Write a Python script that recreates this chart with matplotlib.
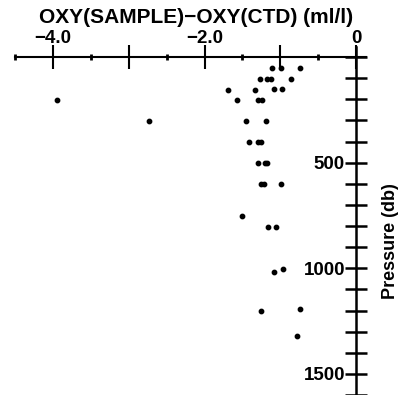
import numpy as np
import matplotlib
matplotlib.use("Agg")
import matplotlib.pyplot as plt
from matplotlib.ticker import FixedLocator, FuncFormatter

# oxygen difference (ml/l) vs pressure (db)
oxy_diff = [-1.11, -0.99, -0.74,
            -1.27, -1.17, -1.12, -0.86,
            -1.69, -1.33, -1.08, -0.98,
            -3.95, -1.57, -1.29, -1.24,
            -2.73, -1.45, -1.19,
            -1.41, -1.29, -1.25,
            -1.30, -1.20, -1.17,
            -1.26, -1.22, -0.99,
            -1.50,
            -1.16, -1.06,
            -1.09, -0.97,
            -1.26, -0.74,
            -0.78]
pressure = [53, 53, 53,
            103, 103, 103, 102,
            155, 155, 153, 153,
            203, 203, 203, 203,
            302, 302, 302,
            403, 403, 403,
            503, 503, 503,
            602, 602, 602,
            755,
            803, 803,
            1016, 1004,
            1202, 1192,
            1323]

x_major = [-4, -3, -2, -1, 0]
x_minor = [-4.5, -3.5, -2.5, -1.5, -0.5]
x_labeled = {-4: "\u22124.0", -2: "\u22122.0", 0: "0"}
y_ticks = list(range(0, 1700, 100))
y_labeled = [500, 1000, 1500]

plt.rcParams['font.family'] = ['Liberation Sans', 'DejaVu Sans']
plt.rcParams['font.weight'] = 'bold'

fig = plt.figure(figsize=(4.01, 3.95), dpi=100)
ax = fig.add_axes([15 / 401, 0.0, 351 / 401, 1 - 47.5 / 395])

ax.scatter(oxy_diff, pressure, s=10, color='black', zorder=3)

ax.set_xlim(-4.5, 0.13)
ax.set_ylim(1600, -45)

for s in ['bottom', 'right']:
    ax.spines[s].set_visible(False)
ax.spines['top'].set_position(('data', 0))
ax.spines['left'].set_position(('data', 0))
ax.spines['top'].set_linewidth(1.5)
ax.spines['left'].set_linewidth(1.8)

ax.xaxis.set_ticks_position('top')
ax.xaxis.set_major_locator(FixedLocator(x_major))
ax.xaxis.set_minor_locator(FixedLocator(x_minor))
ax.xaxis.set_major_formatter(FuncFormatter(lambda v, p: x_labeled.get(int(round(v)), "")))
ax.tick_params(axis='x', which='major', direction='inout', length=17, width=1.5,
               labelsize=13.5, pad=-1)
ax.tick_params(axis='x', which='minor', direction='inout', length=5, width=2)

ax.yaxis.set_major_locator(FixedLocator(y_ticks))
ax.yaxis.set_major_formatter(FuncFormatter(lambda v, p: str(int(v)) if int(v) in y_labeled else ""))
ax.tick_params(axis='y', direction='inout', length=16, width=1.8, labelsize=13.5, pad=0)

fig.text(0.49, 0.955, "OXY(SAMPLE)\u2212OXY(CTD) (ml/l)", ha='center', va='center',
         fontsize=15, fontweight='bold')
fig.text(0.975, 0.39, "Pressure (db)", ha='center', va='center', rotation=90,
         fontsize=13, fontweight='bold')

fig.savefig("out.png", dpi=100)
